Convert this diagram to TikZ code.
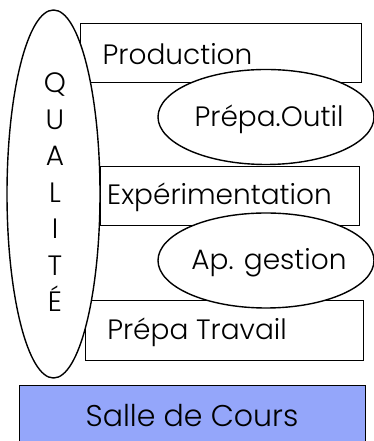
\documentclass[tikz,border=0pt]{standalone}
\usepackage{fontspec}
\setmainfont{Poppins}[UprightFont=* Light]
\usetikzlibrary{shapes.geometric}
\definecolor{salle}{RGB}{148,166,250}
\tikzset{
  every picture/.style={x=1pt,y=1pt},
  box/.style={draw=black, line width=1.4pt, fill=white, rectangle, inner sep=0pt, anchor=north west},
  oval/.style={draw=black, line width=1.4pt, fill=white, ellipse, inner sep=0pt},
  lbl/.style={inner sep=0pt, anchor=base, font=\fontsize{28}{30}\selectfont},
  letter/.style={inner sep=0pt, anchor=base, font=\fontsize{28}{30}\selectfont}
}
\begin{document}
\begin{tikzpicture}
\useasboundingbox (0,0) rectangle (374,441);
% activity boxes
\node[box, minimum width=281, minimum height=59] (prod) at (80,418) {};
\node[box, minimum width=259, minimum height=59] (exp) at (100,275) {};
\node[box, minimum width=278, minimum height=60] (trav) at (85,141) {};
\node[box, fill=salle, minimum width=346, minimum height=70] (salle) at (19,56) {};
% support ovals
\node[oval, minimum width=216, minimum height=95] (outil) at (266,324) {};
\node[oval, minimum width=216, minimum height=95] (gest) at (266,180.5) {};
\node[oval, minimum width=93, minimum height=368] (qual) at (53.5,247) {};
% labels
\node[lbl] (tprod) at (177.5,376) {Production};
\node[lbl] (texp) at (219.5,236) {Expérimentation};
\node[lbl] (ttrav) at (197,101) {Prépa Travail};
\node[lbl, font=\fontsize{30}{32}\selectfont] (tsalle) at (192,14) {Salle de Cours};
\node[lbl] (toutil) at (269,314) {Prépa.Outil};
\node[lbl] (tgest) at (269,171) {Ap. gestion};
% vertical QUALITÉ
\foreach \ch [count=\i] in {Q,U,A,L,I,T,É}
  \node[letter] (q\i) at (55,{348-36.5*(\i-1)}) {\ch};
\end{tikzpicture}
\end{document}
